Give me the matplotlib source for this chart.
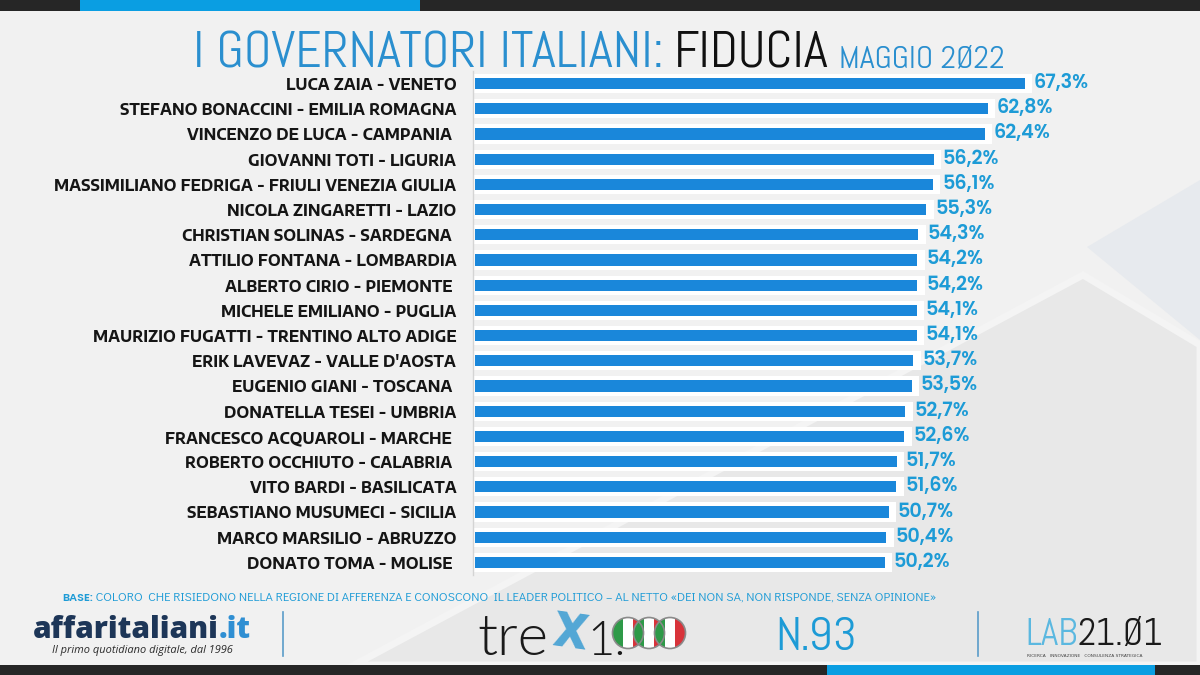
import matplotlib
matplotlib.use("Agg")
import matplotlib.pyplot as plt
from matplotlib.patches import Rectangle, Polygon, Circle

# data
governatori = ["LUCA ZAIA - VENETO", "STEFANO BONACCINI - EMILIA ROMAGNA", "VINCENZO DE LUCA - CAMPANIA ",
               "GIOVANNI TOTI - LIGURIA", "MASSIMILIANO FEDRIGA - FRIULI VENEZIA GIULIA",
               "NICOLA ZINGARETTI - LAZIO", "CHRISTIAN SOLINAS - SARDEGNA ", "ATTILIO FONTANA - LOMBARDIA",
               "ALBERTO CIRIO - PIEMONTE ", "MICHELE EMILIANO - PUGLIA",
               "MAURIZIO FUGATTI - TRENTINO ALTO ADIGE", "ERIK LAVEVAZ - VALLE D'AOSTA",
               "EUGENIO GIANI - TOSCANA ", "DONATELLA TESEI - UMBRIA", "FRANCESCO ACQUAROLI - MARCHE ",
               "ROBERTO OCCHIUTO - CALABRIA ", "VITO BARDI - BASILICATA", "SEBASTIANO MUSUMECI - SICILIA",
               "MARCO MARSILIO - ABRUZZO", "DONATO TOMA - MOLISE "]
fiducia = [67.3, 62.8, 62.4, 56.2, 56.1, 55.3, 54.3, 54.2, 54.2, 54.1,
           54.1, 53.7, 53.5, 52.7, 52.6, 51.7, 51.6, 50.7, 50.4, 50.2]

BLU_BAR = "#1a87da"
BLU_TXT = "#1d9bd6"
BLU_TIT = "#2a8fcf"
BG = "#f1f1f1"
DARK = "#262626"

fig = plt.figure(figsize=(12, 6.75), dpi=100, facecolor=BG)

# background layer in pixel coordinates
bg = fig.add_axes([0, 0, 1, 1])
bg.set_xlim(0, 1200)
bg.set_ylim(675, 0)
bg.axis("off")
bg.add_patch(Polygon([(1083, 275), (1200, 345), (1200, 665), (354, 665)], closed=True,
                     facecolor="#e8e8e8", edgecolor="#f4f4f4", lw=5, zorder=0))
bg.add_patch(Polygon([(1087, 247), (1200, 180), (1200, 340)], closed=True,
                     facecolor="#e7eaee", edgecolor="none", zorder=0))
bg.add_patch(Rectangle((0, 0), 1200, 11, facecolor=DARK, edgecolor="none"))
bg.add_patch(Rectangle((80, 0), 340, 11, facecolor="#0a9ee2", edgecolor="none"))
bg.add_patch(Rectangle((0, 665), 1200, 10, facecolor=DARK, edgecolor="none"))
bg.add_patch(Rectangle((827, 665), 328, 10, facecolor="#0a9ee2", edgecolor="none"))
bg.plot([283, 283], [612, 656], color="#5a9cc9", lw=1.2)
bg.plot([978, 978], [612, 656], color="#5a9cc9", lw=1.2)

renderer = fig.canvas.get_renderer()


def chain(parts, x, y, gap=0):
    # write text pieces one after another on the same baseline
    for s, kw in parts:
        t = bg.text(x, y, s, va="baseline", ha="left", **kw)
        bb = t.get_window_extent(renderer=renderer)
        x = bg.transData.inverted().transform((bb.x1, bb.y0))[0] + gap


# title
chain([("I GOVERNATORI ITALIANI:", dict(family=["Abel", "DejaVu Sans"], fontsize=37, color=BLU_TIT)),
       ("FIDUCIA", dict(family=["Abel", "DejaVu Sans"], fontsize=37, color="#111111")),
       ("MAGGIO 2Ø22", dict(family=["Abel", "DejaVu Sans"], fontsize=23, color=BLU_TIT))],
      193, 67, gap=10)

# bars
ax = fig.add_axes([473 / 1200, 1 - 575 / 675, 656 / 1200, 504 / 675])
ax.set_facecolor("none")
pos = list(range(len(fiducia)))
ax.barh(pos, [v + 0.9 for v in fiducia], left=0, height=0.76, color="white", zorder=1)
ax.barh(pos, [v - 0.25 for v in fiducia], left=0.25, height=0.44, color=BLU_BAR, zorder=2)
for i, v in enumerate(fiducia):
    ax.text(v + 1.1, i, f"{v:.1f}%".replace(".", ","), va="center", ha="left",
            family=["Poppins", "DejaVu Sans"], fontweight=600, fontsize=13.8, color=BLU_TXT)
ax.set_xlim(0, 80)
ax.set_ylim(len(fiducia) - 0.5, -0.5)
ax.set_yticks(pos)
ax.set_yticklabels(governatori, family=["Encode Sans Semi Expanded", "DejaVu Sans"], fontweight=700,
                   fontsize=11, color="#151515")
ax.tick_params(axis="y", length=0, pad=12)
ax.set_xticks([])
for s in ["top", "right", "bottom"]:
    ax.spines[s].set_visible(False)
ax.spines["left"].set_color("#d4d4d4")
ax.spines["left"].set_linewidth(1)

# base note
chain([("BASE:", dict(family=["Poppins", "DejaVu Sans"], fontweight=600, fontsize=8, color=BLU_TXT)),
       (" COLORO  CHE RISIEDONO NELLA REGIONE DI AFFERENZA E CONOSCONO  IL LEADER POLITICO \u2013 AL NETTO "
        "\u00abDEI NON SA, NON RISPONDE, SENZA OPINIONE\u00bb",
        dict(family=["Didact Gothic", "DejaVu Sans"], fontsize=9, color=BLU_TXT))],
      62, 601)

# affaritaliani logo
chain([("affaritaliani", dict(family=["Open Sans", "DejaVu Sans"], fontweight=800, fontsize=21.5, color="#1d3658")),
       (".it", dict(family=["Open Sans", "DejaVu Sans"], fontweight=800, fontsize=21.5, color="#2f8fd3"))],
      33, 638)
bg.text(52, 650, "Il primo quotidiano digitale, dal 1996", va="center", ha="left",
        family=["Open Sans", "DejaVu Sans"], style="italic", fontsize=7.9, color="#2b2b2b")

# trex logo
bg.text(477, 655, "tre", va="baseline", ha="left", family=["Lato", "DejaVu Sans"], fontweight=300,
        fontsize=42, color="#1a1a1a")
bg.text(587, 655, "1.", va="baseline", ha="left", family=["Lato", "DejaVu Sans"], fontweight=300,
        fontsize=34, color="#1a1a1a")
bg.text(570, 636, "X", va="center", ha="center", family=["Poppins", "DejaVu Sans"], fontweight=700,
        fontsize=36, color="#4aa3d4", alpha=0.95, rotation=-8)
for cx in [628, 649, 670]:
    circ = Circle((cx, 633), 15.5, facecolor="none", edgecolor="#8a8a8a", lw=1.2, zorder=5)
    bg.add_patch(circ)
    for k, col in enumerate(["#2e9a48", "#ffffff", "#d8333a"]):
        r = Rectangle((cx - 15.5 + k * 31 / 3, 617), 31 / 3 + 0.3, 32, facecolor=col, edgecolor="none", zorder=4)
        bg.add_patch(r)
        r.set_clip_path(circ)

# numero
bg.text(775, 650, "N.93", va="baseline", ha="left", family=["Abel", "DejaVu Sans"], fontsize=34, color=BLU_TXT)

# LAB21.01 logo
chain([("LAB", dict(family=["Abel", "DejaVu Sans"], fontsize=27, color="#5bb8e0")),
       ("21.Ø1", dict(family=["Abel", "DejaVu Sans"], fontsize=27, color="#1a1a1a"))],
      1025, 645)
bg.text(1027, 656, "RICERCA   INNOVAZIONE   CONSULENZA STRATEGICA", va="center", ha="left",
        family=["DejaVu Sans"], fontsize=3.2, color="#444444")

fig.savefig("out.png", dpi=100, facecolor=BG)
